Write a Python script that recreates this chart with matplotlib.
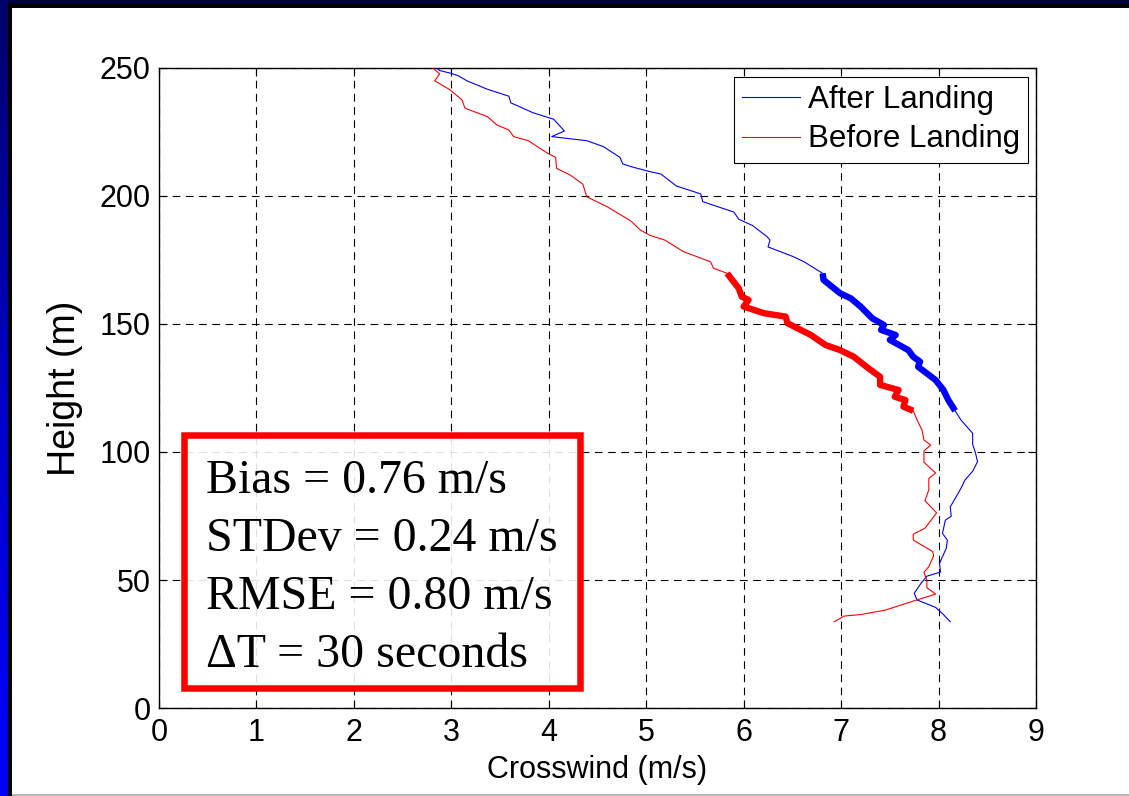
import numpy as np
import matplotlib
matplotlib.use("Agg")
import matplotlib.pyplot as plt
from matplotlib.patches import Rectangle
from matplotlib.colors import LinearSegmentedColormap

# ---- profile data: height (m) and crosswind (m/s) ----
after_height = [250.0, 249.0, 248.0, 247.0, 245.0, 241.7, 239.0, 236.4, 232.5, 230.0,
                225.4, 223.2, 221.6, 219.3, 215.1, 212.5, 211.2, 209.5, 208.6, 203.9,
                200.8, 197.8, 193.7, 190.9, 188.5, 184.1, 182.8, 180.1, 176.3, 174.3,
                169.8, 167.2, 162.0, 160.0, 156.8, 152.2, 149.6, 147.7, 145.7, 143.8,
                139.8, 137.2, 135.3, 133.3, 128.1, 124.2, 120.3, 116.1,
                112.5, 107.3, 103.0, 99.5, 96.2, 92.5, 89.0, 85.8, 80.5, 78.6,
                74.9, 73.4, 68.2, 65.6, 62.5, 56.5, 53.1, 51.5, 48.7, 44.8,
                42.2, 39.3, 36.5, 33.7]
after_wind = [2.85, 2.88, 2.99, 3.07, 3.16, 3.37, 3.59, 3.61, 3.84, 4.05,
              4.16, 4.03, 4.39, 4.56, 4.73, 4.76, 4.87, 5.04, 5.15, 5.31,
              5.56, 5.58, 5.90, 5.95, 6.09, 6.24, 6.27, 6.25, 6.51, 6.62,
              6.81, 6.82, 6.99, 7.10, 7.20, 7.32, 7.44, 7.41, 7.56, 7.50,
              7.69, 7.74, 7.81, 7.79, 7.97, 8.05, 8.10, 8.17,
              8.23, 8.35, 8.35, 8.38, 8.40, 8.35, 8.27, 8.23, 8.15, 8.12,
              8.13, 8.07, 8.04, 8.09, 8.08, 8.01, 8.02, 7.88, 7.82, 7.75,
              7.78, 7.97, 8.05, 8.12]

before_height = [250.0, 247.7, 245.0, 241.4, 237.5, 234.3, 231.0, 227.7, 225.8, 223.2,
                 221.6, 218.6, 216.9, 215.1, 210.8, 208.2, 204.6, 199.7, 195.8, 190.3,
                 186.7, 184.6, 182.8, 178.3, 174.3, 171.8,
                 169.8, 163.9, 160.7, 159.4, 156.8, 154.2, 152.9, 150.3, 145.7, 141.8,
                 139.8, 137.2, 132.7, 129.4, 126.2, 124.2, 121.6, 120.3, 117.7, 116.1,
                 112.5, 108.6, 104.7, 102.7, 100.4, 96.0, 91.8, 89.7, 85.2, 81.0,
                 76.2, 70.2, 67.9, 65.6, 61.1, 59.5, 55.2, 53.0, 50.0, 47.0,
                 44.5, 42.0, 38.2, 36.5, 35.9, 33.7]
before_wind = [2.81, 2.88, 2.83, 2.99, 3.11, 3.14, 3.37, 3.47, 3.59, 3.64,
               3.79, 3.91, 3.98, 4.07, 4.08, 4.22, 4.35, 4.39, 4.60, 4.84,
               4.94, 5.04, 5.19, 5.38, 5.66, 5.69,
               5.83, 5.95, 5.98, 6.05, 6.00, 6.21, 6.43, 6.45, 6.69, 6.84,
               6.99, 7.13, 7.28, 7.40, 7.40, 7.59, 7.55, 7.66, 7.64, 7.74,
               7.78, 7.83, 7.85, 7.92, 7.85, 7.85, 7.97, 7.90, 7.90, 7.86,
               7.98, 7.86, 7.74, 7.74, 7.94, 7.95, 7.90, 7.85, 7.88, 7.88,
               7.97, 7.76, 7.45, 7.20, 7.03, 6.93]

# height band drawn with a heavy line
band_top = 170.0
band_bottom = 116.0

x_ticks = [0, 1, 2, 3, 4, 5, 6, 7, 8, 9]
y_ticks = [0, 50, 100, 150, 200, 250]

stats_lines = ["Bias = 0.76 m/s",
               "STDev = 0.24 m/s",
               "RMSE = 0.80 m/s",
               "\u0394T = 30 seconds"]

plt.rcParams["font.family"] = ["Liberation Sans", "DejaVu Sans"]
plt.rcParams["lines.scale_dashes"] = False

W, H = 1129, 796
fig = plt.figure(figsize=(W / 100, H / 100), dpi=100)
fig.patch.set_facecolor("white")

# slide frame: blue gradient strip on the left, dark bands, grey bottom rule
strip = fig.add_axes([0, 0, 8 / W, 1])
grad = np.linspace(0, 1, 256).reshape(-1, 1)
cmap = LinearSegmentedColormap.from_list("frame", ["#00006a", "#0000c8", "#0000ff"])
strip.imshow(grad, aspect="auto", cmap=cmap, origin="upper")
strip.set_axis_off()
fig.patches.append(Rectangle((8 / W, 0), 4 / W, 1, transform=fig.transFigure,
                             facecolor="black", edgecolor="none", zorder=5))
fig.patches.append(Rectangle((8 / W, 1 - 8 / H), 1, 8 / H, transform=fig.transFigure,
                             facecolor="black", edgecolor="none", zorder=5))
fig.patches.append(Rectangle((8 / W, 1 - 3 / H), 1, 3 / H, transform=fig.transFigure,
                             facecolor="#000048", edgecolor="none", zorder=6))
fig.patches.append(Rectangle((12 / W, 0), 1, 2.5 / H, transform=fig.transFigure,
                             facecolor="#b8b8b8", edgecolor="none", zorder=5))

ax = fig.add_axes([159 / W, 1 - 708 / H, 877 / W, 640 / H])
ax.set_xlim(0, 9)
ax.set_ylim(0, 250)
ax.set_xticks(x_ticks)
ax.set_yticks(y_ticks)
ax.set_axisbelow(True)
ax.grid(True, color="black", linestyle=(0, (5.5, 4.0)), linewidth=0.8)
for s in ax.spines.values():
    s.set_linewidth(1.0)
ax.tick_params(direction="in", length=6, width=0.8, top=True, right=True,
               labelsize=22, pad=6)
ax.tick_params(axis="x", pad=7)

ah = np.array(after_height)
aw = np.array(after_wind)
bh = np.array(before_height)
bw = np.array(before_wind)

ax.plot(aw, ah, color="#0000ff", lw=0.8, label="After Landing", zorder=3)
ax.plot(bw, bh, color="#ff0000", lw=0.8, label="Before Landing", zorder=3)
am = (ah <= band_top) & (ah >= band_bottom)
bm = (bh <= band_top) & (bh >= band_bottom)
ax.plot(aw[am], ah[am], color="#0000ff", lw=4.6, solid_capstyle="butt", zorder=4)
ax.plot(bw[bm], bh[bm], color="#ff0000", lw=4.6, solid_capstyle="butt", zorder=4)

ax.set_xlabel("Crosswind (m/s)", fontsize=22, labelpad=5)
ax.set_ylabel("Height (m)", fontsize=27, labelpad=12)

leg = ax.legend(loc="upper right", bbox_to_anchor=(0.991, 0.986), borderaxespad=0,
                fontsize=22.5, frameon=True, fancybox=False, framealpha=1,
                edgecolor="black", borderpad=0.26, labelspacing=0.30,
                handlelength=1.85, handletextpad=0.25)
leg.get_frame().set_linewidth(0.8)

# statistics box
box = Rectangle((0.028, 0.031), 0.4515, 0.3955, transform=ax.transAxes,
                facecolor=(1, 1, 1, 0.88), edgecolor="#ff0000", linewidth=4.7, zorder=5)
ax.add_patch(box)
baselines = [0.3355, 0.2455, 0.1550, 0.0645]
for yb, line in zip(baselines, stats_lines):
    ax.text(0.0536, yb, line, transform=ax.transAxes, fontsize=34.5,
            family=["Liberation Serif", "DejaVu Serif"], va="baseline", ha="left",
            color="black", zorder=6)

fig.savefig("out.png", dpi=100, facecolor=fig.get_facecolor())
